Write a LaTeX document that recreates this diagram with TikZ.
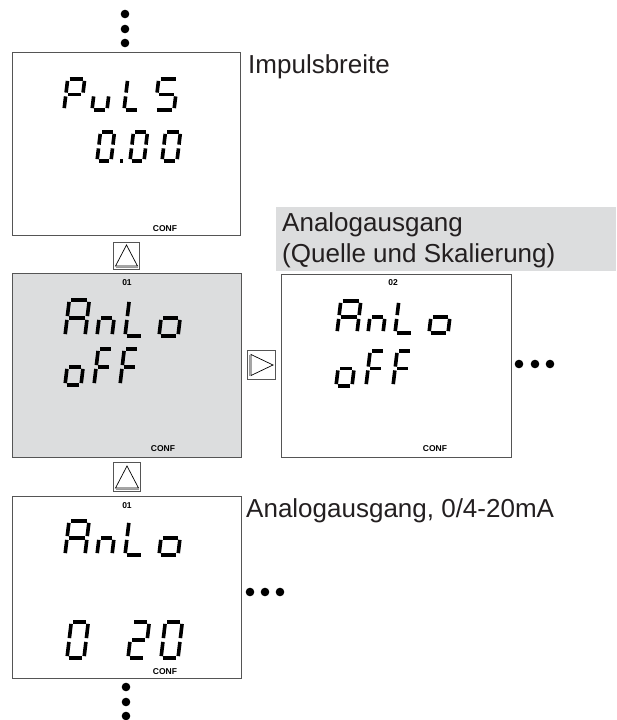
\documentclass[tikz,border=0pt]{standalone}
\usepackage{fontspec}
\setmainfont{Liberation Sans}
\definecolor{boxgray}{HTML}{555555}
\definecolor{lcdgray}{HTML}{DCDDDE}
\definecolor{labelgray}{HTML}{DCDDDE}
\definecolor{txt}{HTML}{231F20}
\newcommand\gG{1.9}
\newcommand\glyph[5]{\begin{scope}[shift={(#1,#2)},xslant=0.12]\def\gW{#3}\def\gH{#4}#5\end{scope}}
\newcommand\sgA{\draw[seg] ({\gG},{-\gH}) -- ({\gW-\gG},{-\gH});}
\newcommand\sgB{\draw[seg] ({\gW},{-\gH+\gG}) -- ({\gW},{-\gH/2-\gG});}
\newcommand\sgC{\draw[seg] ({\gW},{-\gH/2+\gG}) -- ({\gW},{-\gG});}
\newcommand\sgD{\draw[seg] ({\gG},0) -- ({\gW-\gG},0);}
\newcommand\sgE{\draw[seg] (0,{-\gG}) -- (0,{-\gH/2+\gG});}
\newcommand\sgF{\draw[seg] (0,{-\gH/2-\gG}) -- (0,{-\gH+\gG});}
\newcommand\sgG{\draw[seg] ({\gG},{-\gH/2}) -- ({\gW-\gG},{-\gH/2});}
\begin{document}
\begin{tikzpicture}[x=1pt,y=-1pt,
  lcd/.style={draw=boxgray, line width=1.1pt, anchor=north west, inner sep=0pt},
  seg/.style={line width=3.6pt, line cap=butt, draw=black},
  lbl/.style={font=\fontsize{26}{31}\selectfont, text=txt, inner sep=0pt, anchor=base west},
  small/.style={font=\bfseries\fontsize{8.5}{9}\selectfont, inner sep=0pt},
  btn/.style={draw=boxgray, line width=0.9pt, fill=white, anchor=north west, inner sep=0pt},
  tri/.style={draw=black, line width=0.7pt, line join=miter}]
\useasboundingbox (0,0) rectangle (616,720);
% dots
\foreach \yy in {14,29,43} \fill (125,\yy) circle (4.3);
\foreach \yy in {687,702,716} \fill (126,\yy) circle (4.3);
\foreach \xx in {519,535,550} \fill (\xx,364) circle (4.3);
\foreach \xx in {250,265,280} \fill (\xx,592) circle (4.3);
% displays
\node[lcd, minimum width=228pt, minimum height=183pt] (puls) at (12,52) {};
\node[lcd, fill=lcdgray, minimum width=229pt, minimum height=184pt] (anlo1) at (12,273) {};
\node[lcd, minimum width=230pt, minimum height=183pt] (anlo2) at (281,274) {};
\node[lcd, minimum width=229pt, minimum height=182pt] (anlo3) at (12,496) {};
% label box
\fill[labelgray] (276,207) rectangle (616,271);
\node[lbl] (t1) at (248,73) {Impulsbreite};
\node[lbl] (t2a) at (282,231) {Analogausgang};
\node[lbl] (t2b) at (282,262) {(Quelle und Skalierung)};
\node[lbl] (t3) at (246,517) {Analogausgang, 0/4-20mA};
% small labels
\node[small] (c1) at (165,229) {CONF};
\node[small] (c2) at (163,449) {CONF};
\node[small] (c3) at (435,449) {CONF};
\node[small] (c4) at (165,672) {CONF};
\node[small] (n1) at (127,283) {01};
\node[small] (n2) at (393,283) {02};
\node[small] (n3) at (127,506) {01};
% buttons
\node[btn, minimum width=26pt, minimum height=27pt] (up1) at (113,242) {};
\draw[tri] (115.5,266) -- (137.5,266) -- (126.5,245) -- cycle;
\draw[boxgray!60, line width=0.8pt] (115.5,267.3) -- (137.5,267.3);
\node[btn, minimum width=27pt, minimum height=29pt] (up2) at (113,462) {};
\draw[tri] (115.5,488) -- (138.5,488) -- (127,466) -- cycle;
\draw[boxgray!60, line width=0.8pt] (115.5,489.3) -- (138.5,489.3);
\node[btn, minimum width=28pt, minimum height=29pt] (right1) at (247,350) {};
\draw[tri] (251,354.5) -- (251,375.5) -- (273,365) -- cycle;
\draw[boxgray!60, line width=0.8pt] (249.7,354.5) -- (249.7,375.5);
% PuLS
\glyph{64}{110}{17}{31}{\sgA\sgB\sgF\sgG\sgE}
\glyph{92}{110}{15}{31}{\sgE\sgD\sgC}
\glyph{124}{110}{15}{31}{\sgF\sgE\sgD}
\glyph{155}{110}{19}{31}{\sgA\sgF\sgG\sgC\sgD}
% 0.00
\glyph{97}{161}{14}{29}{\sgA\sgB\sgC\sgD\sgE\sgF}
\fill (120,159.2) rectangle (123.4,162.8);
\glyph{130}{161}{14}{29}{\sgA\sgB\sgC\sgD\sgE\sgF}
\glyph{162}{161}{15}{29}{\sgA\sgB\sgC\sgD\sgE\sgF}
% AnLo / oFF middle
\glyph{65}{336}{20}{36}{\sgA\sgB\sgC\sgE\sgF\sgG}
\glyph{97}{336}{15}{36}{\sgG\sgE\sgC}
\glyph{125}{336}{18}{36}{\sgF\sgE\sgD}
\glyph{159}{336}{19}{36}{\sgG\sgC\sgD\sgE}
\glyph{65}{385}{16}{36}{\sgG\sgC\sgD\sgE}
\glyph{94}{385}{15}{36}{\sgA\sgF\sgG\sgE}
\glyph{120}{385}{15}{36}{\sgA\sgF\sgG\sgE}
% AnLo / oFF right
\glyph{337}{333}{20}{32}{\sgA\sgB\sgC\sgE\sgF\sgG}
\glyph{368}{333}{15}{32}{\sgG\sgE\sgC}
\glyph{395}{333}{18}{32}{\sgF\sgE\sgD}
\glyph{429}{333}{19}{32}{\sgG\sgC\sgD\sgE}
\glyph{336}{386}{16}{35}{\sgG\sgC\sgD\sgE}
\glyph{366}{386}{15}{35}{\sgA\sgF\sgG\sgE}
\glyph{393}{386}{15}{35}{\sgA\sgF\sgG\sgE}
% AnLo / 0 20 bottom
\glyph{65}{555}{20}{34}{\sgA\sgB\sgC\sgE\sgF\sgG}
\glyph{97}{555}{15}{34}{\sgG\sgE\sgC}
\glyph{125}{555}{18}{34}{\sgF\sgE\sgD}
\glyph{159}{555}{19}{34}{\sgG\sgC\sgD\sgE}
\glyph{67}{658}{17}{36}{\sgA\sgB\sgC\sgD\sgE\sgF}
\glyph{128}{658}{17}{36}{\sgA\sgB\sgG\sgE\sgD}
\glyph{161}{658}{17}{36}{\sgA\sgB\sgC\sgD\sgE\sgF}
\end{tikzpicture}
\end{document}
